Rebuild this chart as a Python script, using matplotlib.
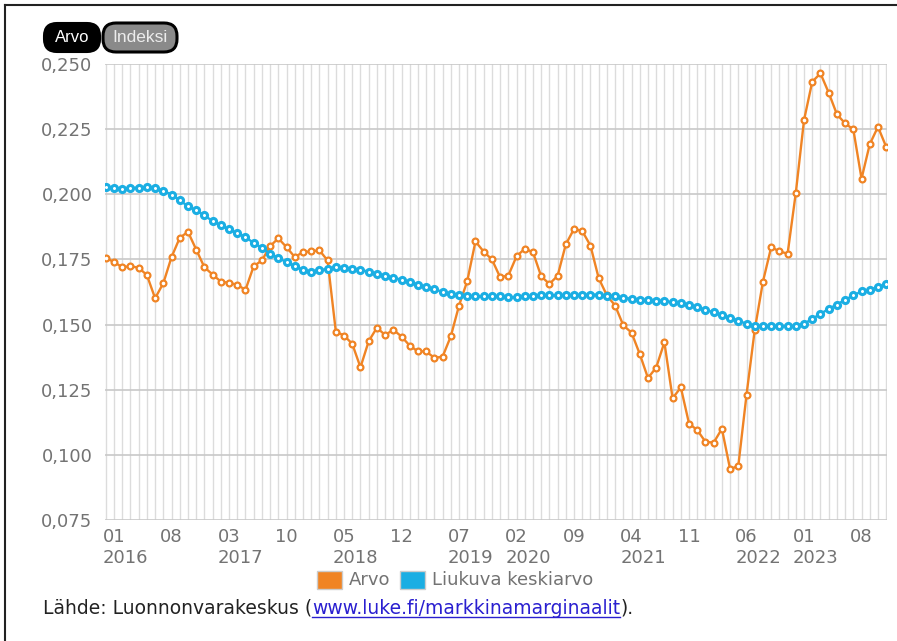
import matplotlib
matplotlib.use("Agg")
import matplotlib.pyplot as plt
from matplotlib.patches import FancyBboxPatch, Rectangle
from matplotlib.lines import Line2D
from matplotlib.ticker import FuncFormatter
from matplotlib.transforms import IdentityTransform, ScaledTranslation

W, H = 897, 641

# ---- data (monthly, 01/2016 .. 12/2023) ----
arvo = [
    0.1756, 0.1740, 0.1720, 0.1724, 0.1718, 0.1690, 0.1601, 0.1659, 0.1759, 0.1833,
    0.1856, 0.1788, 0.1720, 0.1692, 0.1665, 0.1660, 0.1653, 0.1633, 0.1724, 0.1746,
    0.1801, 0.1831, 0.1797, 0.1759, 0.1778, 0.1781, 0.1785, 0.1746, 0.1473, 0.1458,
    0.1426, 0.1336, 0.1436, 0.1488, 0.1460, 0.1480, 0.1454, 0.1419, 0.1397, 0.1397,
    0.1372, 0.1377, 0.1455, 0.1573, 0.1667, 0.1819, 0.1780, 0.1750, 0.1682, 0.1688,
    0.1762, 0.1791, 0.1778, 0.1685, 0.1656, 0.1687, 0.1808, 0.1867, 0.1859, 0.1803,
    0.1678, 0.1612, 0.1573, 0.1497, 0.1469, 0.1387, 0.1295, 0.1335, 0.1432, 0.1217,
    0.1259, 0.1120, 0.1095, 0.1050, 0.1047, 0.1100, 0.0945, 0.0958, 0.1231, 0.1480,
    0.1665, 0.1797, 0.1781, 0.1772, 0.2006, 0.2285, 0.2432, 0.2464, 0.2390, 0.2307,
    0.2272, 0.2249, 0.2060, 0.2192, 0.2259, 0.2182,
]
liukuva = [
    0.2028, 0.2024, 0.2022, 0.2024, 0.2026, 0.2028, 0.2024, 0.2013, 0.1999, 0.1977,
    0.1954, 0.1938, 0.1919, 0.1897, 0.1881, 0.1865, 0.1851, 0.1836, 0.1813, 0.1795,
    0.1772, 0.1755, 0.1740, 0.1724, 0.1710, 0.1701, 0.1708, 0.1714, 0.1720, 0.1718,
    0.1714, 0.1710, 0.1703, 0.1695, 0.1687, 0.1680, 0.1672, 0.1663, 0.1653, 0.1644,
    0.1635, 0.1626, 0.1618, 0.1612, 0.1609, 0.1608, 0.1608, 0.1608, 0.1608, 0.1605,
    0.1605, 0.1608, 0.1610, 0.1613, 0.1613, 0.1612, 0.1612, 0.1613, 0.1614, 0.1615,
    0.1615, 0.1610, 0.1608, 0.1603, 0.1599, 0.1596, 0.1594, 0.1592, 0.1590, 0.1586,
    0.1581, 0.1576, 0.1567, 0.1556, 0.1547, 0.1535, 0.1526, 0.1515, 0.1503, 0.1494,
    0.1494, 0.1494, 0.1494, 0.1494, 0.1494, 0.1503, 0.1522, 0.1541, 0.1560, 0.1577,
    0.1595, 0.1612, 0.1627, 0.1633, 0.1644, 0.1654,
]
tick_months = ["01", "08", "03", "10", "05", "12", "07", "02", "09", "04", "11", "06", "01", "08"]
tick_years = ["2016", "", "2017", "", "2018", "", "2019", "2020", "", "2021", "", "2022", "2023", ""]
y_ticks = [0.075, 0.100, 0.125, 0.150, 0.175, 0.200, 0.225, 0.250]
series_names = ["Arvo", "Liukuva keskiarvo"]
buttons = ["Arvo", "Indeksi"]
source_text = "Lähde: Luonnonvarakeskus ("
source_link = "www.luke.fi/markkinamarginaalit"
source_end = ")."

ORANGE = "#F08424"
BLUE = "#1BAEE3"
GRAY_TXT = "#737373"
LINK = "#2a1fd0"

plt.rcParams['font.family'] = ['DejaVu Sans']

fig = plt.figure(figsize=(W / 100, H / 100), dpi=100)
fig.patch.set_facecolor("white")


def fx(x):
    return x / W


def fy(y):
    return 1 - y / H


# plot area
L, R, T, B = 105, 887, 64, 520
ax = fig.add_axes([fx(L), fy(B), (R - L) / W, (B - T) / H])
n = len(arvo)
x = list(range(n))
ax.set_xlim(-0.1, n - 1 + 0.1)
ax.set_ylim(0.075, 0.250)
for s in ax.spines.values():
    s.set_visible(False)

# grid
ax.set_xticks(x, minor=True)
ax.set_xticks(list(range(0, n, 7)))
ax.grid(which="minor", axis="x", color="#dcdcdc", lw=1.0)
ax.grid(which="major", axis="x", color="#dcdcdc", lw=1.0)
ax.set_yticks(y_ticks)
ax.grid(which="major", axis="y", color="#c8c8c8", lw=1.2)
ax.set_axisbelow(True)
ax.tick_params(which="both", length=0)
ax.yaxis.set_major_formatter(FuncFormatter(lambda v, p: f"{v:.3f}".replace(".", ",")))
ax.tick_params(axis="y", labelsize=13, labelcolor=GRAY_TXT, pad=9)

labels = [m + ("\n" + yv if yv else "\n") for m, yv in zip(tick_months, tick_years)]
ax.set_xticklabels(labels, ha="left", fontsize=13, color=GRAY_TXT, linespacing=1.2)
ax.tick_params(axis="x", pad=6)
shift = ScaledTranslation(-3 / 100, 0, fig.dpi_scale_trans)
for lab in ax.get_xticklabels():
    lab.set_transform(lab.get_transform() + shift)

# series
ax.plot(x, arvo, color=ORANGE, lw=1.7, marker="o", ms=4.2, mfc="white",
        mec=ORANGE, mew=1.6, zorder=3)
ax.plot(x, liukuva, color=BLUE, lw=1.7, marker="o", ms=4.4, mfc="white",
        mec=BLUE, mew=2.2, zorder=4)

# legend (manual)
leg_y = 580
fig.patches.append(Rectangle((fx(317), fy(589)), 25 / W, 18 / H, transform=fig.transFigure,
                             facecolor=ORANGE, edgecolor="#cccccc", lw=1))
fig.text(fx(349), fy(leg_y), series_names[0], fontsize=13, color=GRAY_TXT, va="center", ha="left")
fig.patches.append(Rectangle((fx(400), fy(589)), 25 / W, 18 / H, transform=fig.transFigure,
                             facecolor=BLUE, edgecolor="#cccccc", lw=1))
fig.text(fx(432), fy(leg_y), series_names[1], fontsize=13, color=GRAY_TXT, va="center", ha="left")

# buttons (pixel coordinates, origin bottom-left)
b1 = FancyBboxPatch((44, H - 52), 56, 29, boxstyle="round,pad=0,rounding_size=13",
                    transform=IdentityTransform(), facecolor="black", edgecolor="black", lw=1.5)
fig.add_artist(b1)
fig.text(fx(72), fy(37), buttons[0], fontsize=12, color="white", ha="center", va="center",
         family=["Liberation Sans"])
b2 = FancyBboxPatch((103, H - 52), 74, 29, boxstyle="round,pad=0,rounding_size=13",
                    transform=IdentityTransform(), facecolor="#8a8a8a", edgecolor="black", lw=2.2)
fig.add_artist(b2)
fig.text(fx(140), fy(37), buttons[1], fontsize=12.5, color="#ececec", ha="center", va="center",
         family=["Liberation Sans"])

# footer
fig.canvas.draw()
renderer = fig.canvas.get_renderer()
FS = 13.5
t1 = fig.text(fx(43), fy(608), source_text, fontsize=FS, color="#222222", va="center", ha="left")
bb = t1.get_window_extent(renderer)
t2 = fig.text(bb.x1 / W, fy(608), source_link, fontsize=FS, color=LINK, va="center", ha="left")
bb2 = t2.get_window_extent(renderer)
fig.add_artist(Line2D([bb2.x0 / W, bb2.x1 / W], [fy(617), fy(617)], transform=fig.transFigure,
                      color=LINK, lw=1))
fig.text(bb2.x1 / W, fy(608), source_end, fontsize=FS, color="#222222", va="center", ha="left")

# frame
fig.add_artist(Line2D([fx(5), fx(5)], [fy(5), fy(641)], transform=fig.transFigure, color="#222222", lw=1.5))
fig.add_artist(Line2D([fx(5), fx(897)], [fy(5), fy(5)], transform=fig.transFigure, color="#222222", lw=1.5))

fig.savefig("out.png", dpi=100)
